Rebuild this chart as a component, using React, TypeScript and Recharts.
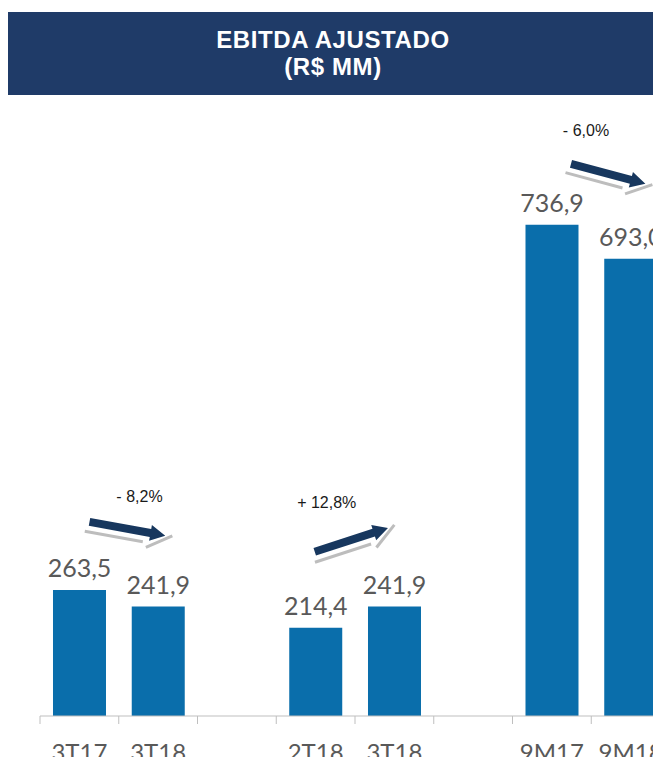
import React from "react";
import { BarChart, Bar, XAxis, YAxis, LabelList } from "recharts";

// dados do gráfico (R$ MM)
const categorias = ["3T17", "3T18", "", "2T18", "3T18", "", "9M17", "9M18"];
const ebitda = [263.5, 241.9, null, 214.4, 241.9, null, 736.9, 693.0];
const variacoes = ["- 8,2%", "+ 12,8%", "- 6,0%"];
const inicioPares = [0, 3, 6];

// layout das setas (relativo ao primeiro bar de cada par)
const setas = [
  { dx: 10, dy: -68, ang: 10.3, tx: 50, ty: -20 },
  { dx: -1, dy: -76, ang: -18, tx: 12, ty: -44 },
  { dx: 19, dy: -61, ang: 15, tx: 15, ty: -28 },
];

const LARGURA = 680;
const ALTURA = 765;
const MARGEM = { top: 99, right: 10, left: 40, bottom: 0 };
const ALTURA_EIXO = 49;
const EIXO_Y = ALTURA - MARGEM.bottom - ALTURA_EIXO;
const BANDA = (LARGURA - MARGEM.left - MARGEM.right) / categorias.length;

const dados = categorias.map((c, i) => ({ nome: c, valor: ebitda[i] }));

const formata = (v: number) => v.toFixed(1).replace(".", ",");

const Tick = ({ x, payload }: any) => (
  <g>
    <line x1={x - BANDA / 2} x2={x - BANDA / 2} y1={EIXO_Y} y2={EIXO_Y + 8} stroke="#bfbfbf" />
    <text
      x={x}
      y={EIXO_Y + 45}
      textAnchor="middle"
      fill="#595959"
      style={{ fontFamily: "Lato", fontSize: 24 }}
    >
      {payload.value}
    </text>
  </g>
);

const Seta = ({ x, y, ang, texto, tx, ty }: any) => {
  const L = 77;
  return (
    <g>
      <g transform={`translate(${x},${y}) rotate(${ang})`}>
        <polyline points="-3,10 56,10" fill="none" stroke="#bdbdbd" strokeWidth={3} />
        <polyline points="60,15 84,-1" fill="none" stroke="#bdbdbd" strokeWidth={3} />
        <polygon
          points={`0,-4 ${L - 15},-4 ${L - 15},-8 ${L},0 ${L - 15},8 ${L - 15},4 0,4`}
          fill="#17375e"
        />
      </g>
      <text
        x={x + tx}
        y={y + ty}
        textAnchor="middle"
        fill="#1a1a1a"
        style={{ fontFamily: "Liberation Sans, Arial", fontSize: 16 }}
      >
        {texto}
      </text>
    </g>
  );
};

const RotuloValor = ({ x, y, width, value }: any) => {
  if (value == null) return null;
  return (
    <text
      x={x + width / 2}
      y={y - 13}
      textAnchor="middle"
      fill="#595959"
      style={{ fontFamily: "Lato", fontSize: 25 }}
    >
      {formata(value)}
    </text>
  );
};

// descobre a categoria pela posição do bar (bars nulos não entram no índice)
const RotuloSeta = ({ x, y, width }: any) => {
  const cat = Math.floor((x + width / 2 - MARGEM.left) / BANDA);
  const p = inicioPares.indexOf(cat);
  if (p < 0) return null;
  const s = setas[p];
  return <Seta x={x + width / 2 + s.dx} y={y + s.dy} ang={s.ang} texto={variacoes[p]} tx={s.tx} ty={s.ty} />;
};

export default function App() {
  return (
    <div
      style={{
        margin: -8,
        width: 661,
        height: 765,
        overflow: "hidden",
        position: "relative",
        background: "#ffffff",
      }}
    >
      <div
        style={{
          position: "absolute",
          top: 12,
          left: 8,
          width: 660,
          height: 83,
          background: "#1f3b68",
          color: "#ffffff",
          fontFamily: "Liberation Sans, Arial",
          fontWeight: "bold",
          fontSize: 24,
          letterSpacing: 0.6,
          lineHeight: "27px",
          textAlign: "center",
          paddingTop: 14,
          boxSizing: "border-box",
        }}
      >
        <div style={{ marginLeft: -10 }}>EBITDA AJUSTADO</div>
        <div style={{ marginLeft: -10 }}>(R$ MM)</div>
      </div>
      <div style={{ position: "absolute", top: 0, left: 0 }}>
        <BarChart width={LARGURA} height={ALTURA} data={dados} margin={MARGEM} barCategoryGap="16.5%">
          <XAxis
            dataKey="nome"
            height={ALTURA_EIXO}
            tickSize={0}
            tickMargin={0}
            axisLine={{ stroke: "#bfbfbf" }}
            tickLine={false}
            tick={<Tick />}
            interval={0}
          />
          <YAxis hide domain={[100, 900]} />
          <Bar dataKey="valor" fill="#0a6eab" isAnimationActive={false}>
            <LabelList dataKey="valor" content={<RotuloValor />} />
            <LabelList dataKey="valor" content={<RotuloSeta />} />
          </Bar>
        </BarChart>
      </div>
    </div>
  );
}
